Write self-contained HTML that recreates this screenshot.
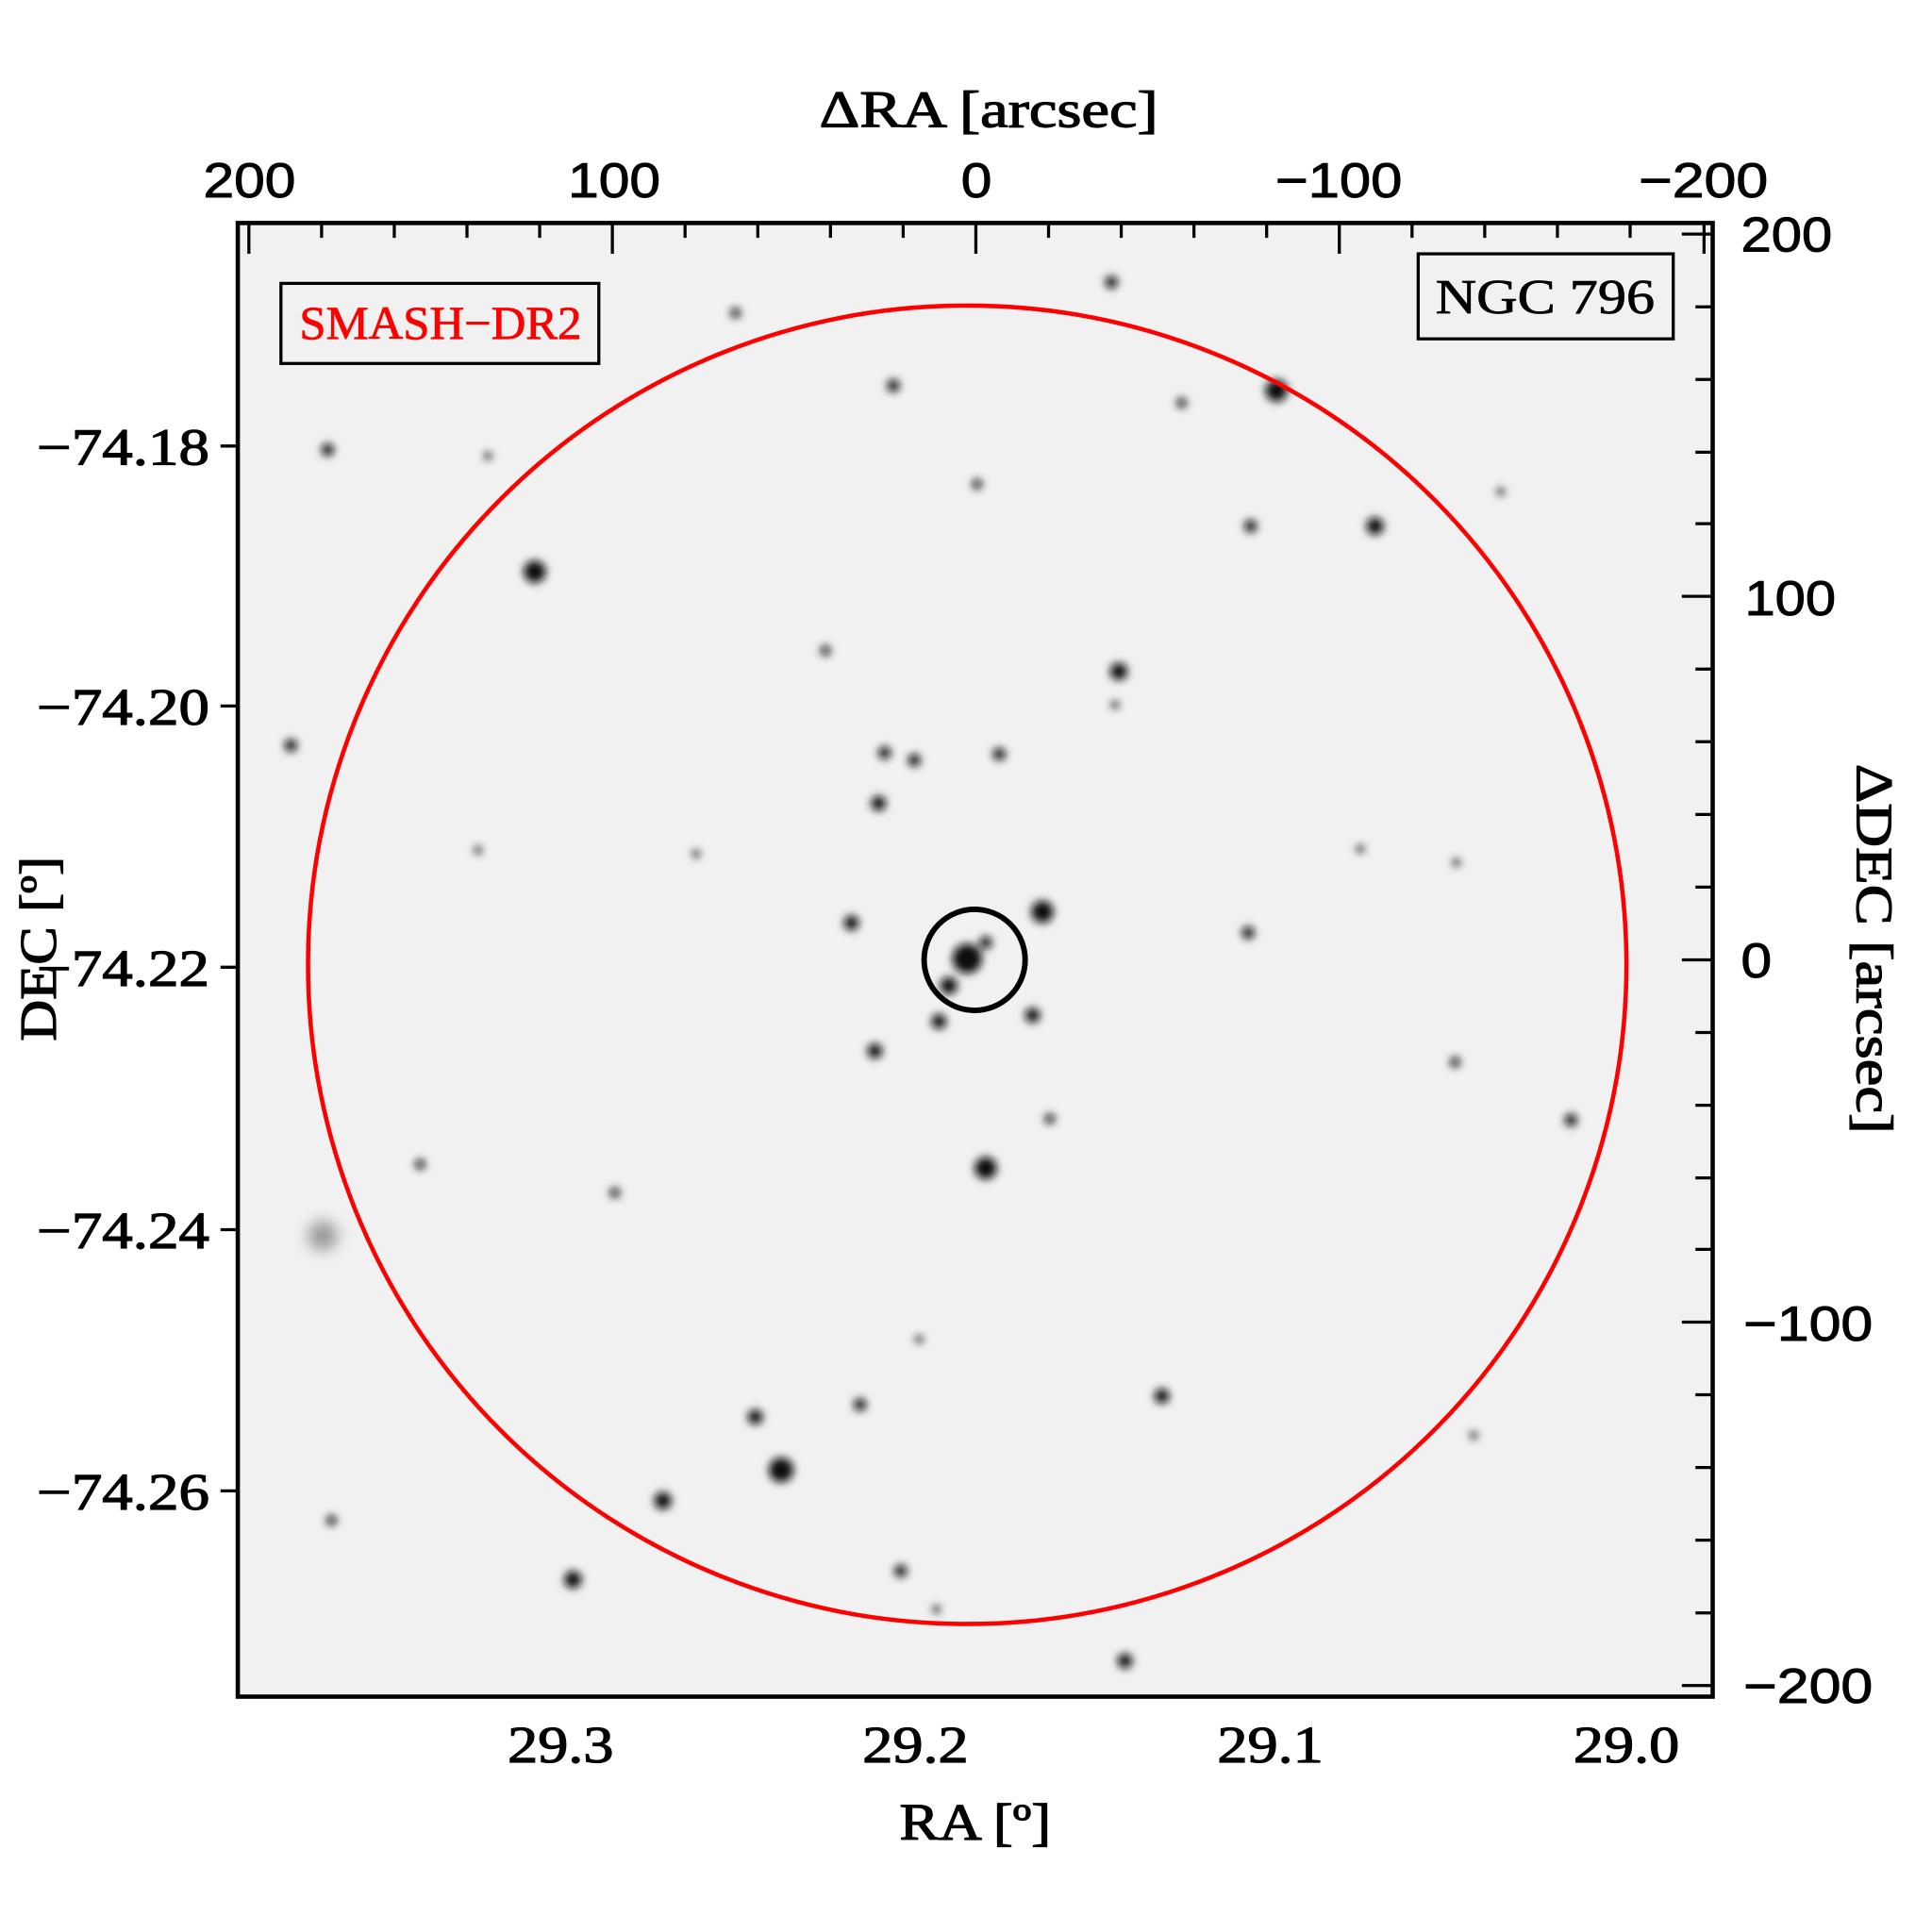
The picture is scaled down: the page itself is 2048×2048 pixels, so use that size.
<!DOCTYPE html>
<html><head><style>html,body{margin:0;padding:0;background:#fff}svg{display:block}</style></head>
<body>
<svg width="2048" height="2048" viewBox="0 0 1568 1568" xmlns="http://www.w3.org/2000/svg">
<defs>
<filter id="b" x="-1" y="-1" width="3" height="3"><feGaussianBlur stdDeviation="3.5"/></filter>
<filter id="b2" x="-1" y="-1" width="3" height="3"><feGaussianBlur stdDeviation="6"/></filter>
<clipPath id="c"><rect x="193" y="181" width="1197" height="1196"/></clipPath>
</defs>
<rect x="193" y="181" width="1197" height="1196" fill="#f1f1f1"/>
<g clip-path="url(#c)" fill="#111" filter="url(#b)">
<circle cx="1036" cy="317" r="9"/><circle cx="434" cy="464" r="9"/><circle cx="1116" cy="427" r="7"/>
<circle cx="908" cy="545" r="7"/><circle cx="846" cy="740" r="9"/><circle cx="800" cy="948" r="9"/>
<circle cx="634" cy="1193" r="10"/><circle cx="538" cy="1218" r="7"/><circle cx="465" cy="1282" r="7"/>
<circle cx="785" cy="778" r="12"/><circle cx="770" cy="800" r="7"/><circle cx="800" cy="765" r="5"/>
<circle cx="691" cy="749" r="6"/><circle cx="713" cy="652" r="6"/><circle cx="742" cy="617" r="5"/>
<circle cx="718" cy="611" r="5"/><circle cx="811" cy="612" r="5"/><circle cx="710" cy="853" r="6"/>
<circle cx="762" cy="829" r="6"/><circle cx="838" cy="824" r="6"/><circle cx="1013" cy="757" r="5"/>
<circle cx="1015" cy="427" r="5"/><circle cx="725" cy="313" r="5"/><circle cx="266" cy="365" r="5"/>
<circle cx="236" cy="605" r="5"/><circle cx="902" cy="229" r="5"/><circle cx="959" cy="327" r="4"/>
<circle cx="943" cy="1133" r="6"/><circle cx="913" cy="1348" r="6"/><circle cx="731" cy="1275" r="5"/>
<circle cx="613" cy="1150" r="6"/><circle cx="698" cy="1140" r="5"/><circle cx="1275" cy="909" r="5"/>
<circle cx="1181" cy="862" r="4"/><circle cx="852" cy="908" r="4"/><circle cx="670" cy="528" r="4"/>
<circle cx="597" cy="254" r="4"/><circle cx="793" cy="393" r="4"/><circle cx="341" cy="945" r="4"/>
<circle cx="499" cy="968" r="4"/><circle cx="269" cy="1234" r="4"/><circle cx="746" cy="1087" r="3"/>
<circle cx="1182" cy="700" r="3"/><circle cx="388" cy="690" r="3"/><circle cx="565" cy="693" r="3"/>
<circle cx="905" cy="572" r="3"/><circle cx="760" cy="1306" r="3"/><circle cx="1196" cy="1165" r="3"/>
<circle cx="1218" cy="399" r="3"/><circle cx="1104" cy="689" r="3"/><circle cx="396" cy="370" r="3"/>
</g>
<circle cx="262" cy="1003" r="12" fill="#999" filter="url(#b2)"/>
<circle cx="785" cy="783" r="535" fill="none" stroke="#f00" stroke-width="3.5"/>
<circle cx="791" cy="779" r="41" fill="none" stroke="#000" stroke-width="4.5"/>
<rect x="228" y="230" width="258" height="65" fill="none" stroke="#000" stroke-width="2.5"/>
<text x="243" y="275" textLength="229" lengthAdjust="spacingAndGlyphs" font-family="Liberation Serif, serif" font-size="38" fill="#f00" stroke="#f00" stroke-width="0.6">SMASH−DR2</text>
<rect x="1151" y="206" width="207" height="69" fill="none" stroke="#000" stroke-width="2.5"/>
<text x="1165" y="254" textLength="178" lengthAdjust="spacingAndGlyphs" font-family="Liberation Serif, serif" font-size="40" fill="#000" stroke="#000" stroke-width="0.6">NGC 796</text>
<rect x="193" y="181" width="1197" height="1196" fill="none" stroke="#000" stroke-width="3.5"/>
<g stroke="#000" stroke-width="2.5">
<path d="M202 181v25M497 181v25M792 181v25M1087 181v25M1383 181v25"/>
<path d="M261 181v12M320 181v12M379 181v12M438 181v12M556 181v12M615 181v12M674 181v12M733 181v12M851 181v12M910 181v12M969 181v12M1028 181v12M1146 181v12M1205 181v12M1264 181v12M1323 181v12"/>
<path d="M1390 190h-25M1390 484h-25M1390 779h-25M1390 1073h-25M1390 1368h-25"/>
<path d="M1390 249h-14M1390 308h-14M1390 367h-14M1390 425h-14M1390 543h-14M1390 602h-14M1390 661h-14M1390 720h-14M1390 838h-14M1390 897h-14M1390 956h-14M1390 1014h-14M1390 1132h-14M1390 1191h-14M1390 1250h-14M1390 1309h-14"/>
<path d="M193 362h-14M193 573h-14M193 785h-14M193 998h-14M193 1210h-14"/>
</g>
<g font-family="Liberation Sans, sans-serif" font-size="40" fill="#000" stroke="#000" stroke-width="0.7" lengthAdjust="spacingAndGlyphs">
<text x="165" y="160" textLength="75" lengthAdjust="spacingAndGlyphs">200</text>
<text x="461" y="160" textLength="75" lengthAdjust="spacingAndGlyphs">100</text>
<text x="780" y="160" textLength="25" lengthAdjust="spacingAndGlyphs">0</text>
<text x="1035" y="160" textLength="103" lengthAdjust="spacingAndGlyphs">−100</text>
<text x="1330" y="160" textLength="105" lengthAdjust="spacingAndGlyphs">−200</text>
<text x="1413" y="204" textLength="74" lengthAdjust="spacingAndGlyphs">200</text>
<text x="1416" y="499" textLength="74" lengthAdjust="spacingAndGlyphs">100</text>
<text x="1413" y="793" textLength="25" lengthAdjust="spacingAndGlyphs">0</text>
<text x="1415" y="1088" textLength="105" lengthAdjust="spacingAndGlyphs">−100</text>
<text x="1415" y="1382" textLength="105" lengthAdjust="spacingAndGlyphs">−200</text>
</g>
<g font-family="Liberation Serif, serif" font-size="42" fill="#000" stroke="#000" stroke-width="0.9">
<text x="30" y="377" textLength="140" lengthAdjust="spacingAndGlyphs">−74.18</text>
<text x="30" y="588" textLength="140" lengthAdjust="spacingAndGlyphs">−74.20</text>
<text x="30" y="800" textLength="140" lengthAdjust="spacingAndGlyphs">−74.22</text>
<text x="30" y="1013" textLength="140" lengthAdjust="spacingAndGlyphs">−74.24</text>
<text x="30" y="1225" textLength="140" lengthAdjust="spacingAndGlyphs">−74.26</text>
<text x="412" y="1430" textLength="86" lengthAdjust="spacingAndGlyphs">29.3</text>
<text x="700" y="1430" textLength="86" lengthAdjust="spacingAndGlyphs">29.2</text>
<text x="988" y="1430" textLength="86" lengthAdjust="spacingAndGlyphs">29.1</text>
<text x="1277" y="1430" textLength="86" lengthAdjust="spacingAndGlyphs">29.0</text>
<text x="730" y="1493" textLength="123" lengthAdjust="spacingAndGlyphs">RA [º]</text>
<text x="665" y="103" textLength="275" lengthAdjust="spacingAndGlyphs">ΔRA [arcsec]</text>
<text transform="translate(45,845) rotate(-90)" textLength="150" lengthAdjust="spacingAndGlyphs">DEC [º]</text>
<text transform="translate(1507,620) rotate(90)" textLength="300" lengthAdjust="spacingAndGlyphs">ΔDEC [arcsec]</text>
</g>
</svg>
</body></html>
